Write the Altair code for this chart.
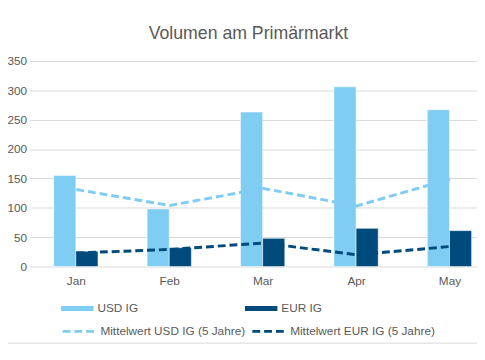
import altair as alt
import pandas as pd

months = ["Jan", "Feb", "Mar", "Apr", "May"]
usd_ig = [155, 98, 263, 306, 267]
eur_ig = [26, 32, 48, 65, 61]
usd_avg = [131, 104, 133, 103, 149]
eur_avg = [23, 29, 40, 20, 34]

bar_series = ["USD IG", "EUR IG"]
line_series = ["Mittelwert USD IG (5 Jahre)", "Mittelwert EUR IG (5 Jahre)"]
light = "#80cdf3"
dark = "#004a7c"
grey = "#595959"
font = "Liberation Sans"

bars_df = pd.DataFrame(
    [{"month": m, "series": bar_series[0], "value": v} for m, v in zip(months, usd_ig)]
    + [{"month": m, "series": bar_series[1], "value": v} for m, v in zip(months, eur_ig)]
)
lines_df = pd.DataFrame(
    [{"month": m, "series": line_series[0], "value": v} for m, v in zip(months, usd_avg)]
    + [{"month": m, "series": line_series[1], "value": v} for m, v in zip(months, eur_avg)]
)

x_enc = alt.X(
    "month:N",
    sort=months,
    scale=alt.Scale(range=[0, 475], paddingInner=0, paddingOuter=0),
    axis=alt.Axis(title=None, labelAngle=0, domain=False, ticks=False, grid=False,
                  labelPadding=9, labelFontSize=12, labelColor=grey, labelFont=font),
)
y_enc = alt.Y(
    "value:Q",
    scale=alt.Scale(domain=[0, 350], nice=False),
    axis=alt.Axis(title=None, values=[0, 50, 100, 150, 200, 250, 300, 350],
                  domain=False, ticks=False, grid=True, gridColor="#d9d9d9",
                  labelPadding=3, labelFontSize=12, labelColor=grey, labelFont=font),
)

bars = alt.Chart(bars_df).mark_bar(stroke="white", strokeWidth=0.5).encode(
    x=x_enc,
    y=y_enc,
    xOffset=alt.XOffset("series:N", sort=bar_series,
                        scale=alt.Scale(range=[24.5, 69.5], paddingInner=0, paddingOuter=0)),
    fill=alt.Fill(
        "series:N",
        scale=alt.Scale(domain=bar_series, range=[light, dark]),
        legend=alt.Legend(
            title=None, orient="none", legendX=32, legendY=235, direction="horizontal",
            symbolType="M-1,-0.15H1V0.15H-1Z", symbolSize=1089, symbolStrokeWidth=0,
            labelOffset=4, columnPadding=108, labelFontSize=12, labelColor=grey,
            labelFont=font,
        ),
    ),
)

lines = alt.Chart(lines_df).mark_line(strokeWidth=3, strokeDash=[8, 4]).encode(
    x=x_enc,
    y=y_enc,
    stroke=alt.Stroke(
        "series:N",
        scale=alt.Scale(domain=line_series, range=[light, dark]),
        legend=alt.Legend(
            title=None, orient="none", legendX=32, legendY=257, direction="horizontal",
            symbolType="stroke", symbolSize=1089, symbolStrokeWidth=3,
            symbolDash=[8, 4], labelOffset=4, columnPadding=0, labelFontSize=12,
            labelColor=grey, labelFont=font,
        ),
    ),
)

border = alt.Chart(pd.DataFrame({"a": [0]})).mark_rule(color="#d9d9d9", strokeWidth=1).encode(
    x=alt.value(-30), x2=alt.value(455), y=alt.value(287)
)

chart = (
    alt.layer(bars, lines, border)
    .resolve_scale(fill="independent", stroke="independent")
    .properties(
        width=455,
        height=209,
        autosize=alt.AutoSizeParams(type="none"),
        padding={"left": 22, "top": 51, "right": 0, "bottom": 80},
        title=alt.TitleParams(
            "Volumen am Primärmarkt", fontSize=18, font=font, fontWeight="normal",
            color=grey, anchor="middle", baseline="alphabetic", offset=19, dx=-5, dy=21,
        ),
    )
    .configure_view(stroke=None)
)

chart.save("out.html", embed_options={"renderer": "svg", "actions": False})
